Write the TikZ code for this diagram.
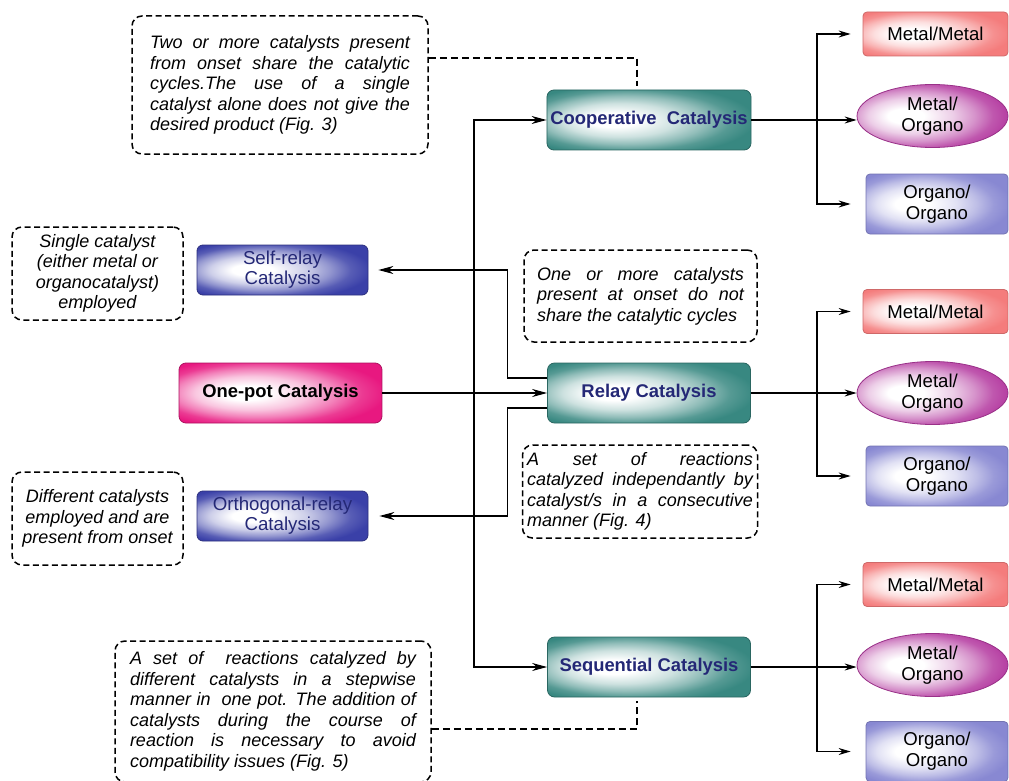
\documentclass[tikz,border=0pt]{standalone}
\usepackage{fontspec}
\setmainfont{Liberation Sans}
\usetikzlibrary{arrows.meta,shapes.geometric}
\definecolor{catTeal}{RGB}{56,136,129}
\definecolor{catPink}{RGB}{232,24,128}
\definecolor{catBlue}{RGB}{58,64,168}
\definecolor{catNavy}{RGB}{36,40,118}
\definecolor{pairRed}{RGB}{244,124,124}
\definecolor{pairMag}{RGB}{180,58,160}
\definecolor{pairLila}{RGB}{136,136,210}
\pgfdeclareradialshading[glowc]{glow}{\pgfpoint{-10bp}{0bp}}{%
  color(0bp)=(white); color(6bp)=(white); color(14bp)=(glowc!25!white);
  color(20bp)=(glowc!55!white); color(25bp)=(glowc!85!white); color(30bp)=(glowc);
  color(50bp)=(glowc)}

\begin{document}
\begin{tikzpicture}[
  x=1pt, y=-1pt,
  every node/.style={font=\fontsize{18}{20.5}\selectfont},
  glow/.style={shading=glow, /utils/exec={\colorlet{glowc}{#1}}},
  cat/.style={draw=#1!75!black, line width=0.8pt, rounded corners=7pt, glow=#1,
              minimum width=203pt, minimum height=60pt, align=center, text=catNavy,
              font=\fontsize{18.4}{20}\selectfont\bfseries},
  sub/.style={draw=catBlue!75!black, line width=0.8pt, rounded corners=6pt, glow=catBlue,
              minimum width=171pt, minimum height=50pt, align=center, text=catNavy,
              font=\fontsize{18.7}{20}\selectfont},
  pair/.style={draw=#1!85!black, line width=0.8pt, rounded corners=4pt, glow=#1,
               align=center, inner sep=0pt, font=\fontsize{18.6}{21}\selectfont},
  mixed/.style={ellipse, draw=pairMag!85!black, line width=0.8pt, glow=pairMag,
                minimum width=151pt, minimum height=63pt, align=center, inner sep=0pt,
                font=\fontsize{18.6}{21}\selectfont},
  note/.style={draw, line width=1.5pt, dash pattern=on 6pt off 3.5pt, rounded corners=10pt,
               font=\fontsize{18}{20.5}\selectfont\itshape, inner sep=0pt},
  con/.style={line width=1.2pt, -{Stealth[length=15pt,width=8pt]}},
  fork/.style={line width=1.2pt, -{Stealth[length=12pt,width=7pt]}},
  link/.style={line width=1.4pt, dash pattern=on 7pt off 4pt}
]
\useasboundingbox (0,0) rectangle (1009,781);

% ---- middle column: the three catalysis types ----
\node[cat=catTeal] (coop)  at (649,120) {Cooperative\ \ Catalysis};
\node[cat=catTeal] (relay) at (649,393) {Relay Catalysis};
\node[cat=catTeal] (seq)   at (649,667) {Sequential Catalysis};

% ---- left column ----
\node[cat=catPink, text=black] (onepot) at (280.5,393) {One-pot Catalysis};
\node[sub] (self)  at (282.5,270) {Self-relay\\Catalysis};
\node[sub] (ortho) at (282.5,516) {Orthogonal-relay\\Catalysis};

% ---- right column: catalyst pairs ----
\node[pair=pairRed, minimum width=145pt, minimum height=44pt] (mmA) at (935.5,34) {Metal/Metal};
\node[mixed] (moA) at (932.5,116) {Metal/\\Organo};
\node[pair=pairLila, minimum width=142pt, minimum height=60pt] (ooA) at (937,204) {Organo/\\Organo};

\node[pair=pairRed, minimum width=145pt, minimum height=44pt] (mmB) at (935.5,311.5) {Metal/Metal};
\node[mixed] (moB) at (932.5,393) {Metal/\\Organo};
\node[pair=pairLila, minimum width=142pt, minimum height=60pt] (ooB) at (937,476) {Organo/\\Organo};

\node[pair=pairRed, minimum width=145pt, minimum height=44pt] (mmC) at (935.5,584.5) {Metal/Metal};
\node[mixed] (moC) at (932.5,665) {Metal/\\Organo};
\node[pair=pairLila, minimum width=142pt, minimum height=60pt] (ooC) at (937,751.5) {Organo/\\Organo};

% ---- dashed notes ----
\node[note, minimum width=296pt, minimum height=138pt, text width=260pt, align=justify] (tnote) at (280,85)
     {Two or more catalysts present\linebreak from onset share the catalytic\linebreak
      cycles.The use of a single\linebreak catalyst alone does not give the\linebreak desired product (Fig. 3)};
\node[note, minimum width=171pt, minimum height=93pt, align=center] (snote) at (97.5,273.5)
     {Single catalyst\\(either metal or\\organocatalyst)\\employed};
\node[note, minimum width=233pt, minimum height=92pt, text width=207pt, align=justify] (onote) at (640.5,296)
     {One or more catalysts\linebreak present at onset do not\linebreak share the catalytic cycles};
\node[note, minimum width=235pt, minimum height=93pt, text width=226pt, align=justify] (anote) at (640,491.5)
     {A set of reactions\linebreak catalyzed independantly by\linebreak catalyst/s in a consecutive\linebreak manner (Fig. 4)};
\node[note, minimum width=171pt, minimum height=93pt, align=center] (dnote) at (97.5,518.5)
     {Different catalysts\\employed and are\\present from onset};
\node[note, minimum width=316pt, minimum height=141pt, text width=286pt, align=justify] (bnote) at (273,711.5)
     {A set of \ reactions catalyzed by\linebreak different catalysts in a stepwise\linebreak
      manner in \ one pot. The addition of\linebreak catalysts during the course of\linebreak
      reaction is necessary to avoid\linebreak compatibility issues (Fig. 5)};

% ---- connectors from one-pot ----
\coordinate (jn) at (474,393);
\draw[con] (onepot.east) -- (relay.west);
\draw[con] (jn) |- (coop.west);
\draw[con] (jn) |- (seq.west);
\draw[con, shorten >=10pt] ([yshift=15pt]relay.west) -- ++(-40,0) |- (self.east);
\draw[con, shorten >=11pt] ([yshift=-15pt]relay.west) -- ++(-40,0) |- (ortho.east);

% ---- forks to the catalyst pairs ----
\coordinate (fkA) at (817,120);
\coordinate (fkB) at (817,393);
\coordinate (fkC) at (817,667);
\draw[fork] (coop.east) -- (coop.east -| moA.west);
\draw[fork] (fkA) |- ([xshift=-12pt]mmA.west);
\draw[fork] (fkA) |- ([xshift=-15pt]ooA.west);
\draw[fork] (relay.east) -- (relay.east -| moB.west);
\draw[fork] (fkB) |- ([xshift=-12pt]mmB.west);
\draw[fork] (fkB) |- ([xshift=-15pt]ooB.west);
\draw[fork] (seq.east) -- (seq.east -| moC.west);
\draw[fork] (fkC) |- ([xshift=-12pt]mmC.west);
\draw[fork] (fkC) |- ([xshift=-15pt]ooC.west);

% ---- dashed links from the notes ----
\draw[link, shorten >=4pt] ([yshift=27pt]tnote.east) -| ([xshift=-12pt]coop.north);
\draw[link, shorten >=4pt] ([yshift=-17.5pt]bnote.east) -| ([xshift=-12pt]seq.south);

\end{tikzpicture}
\end{document}
